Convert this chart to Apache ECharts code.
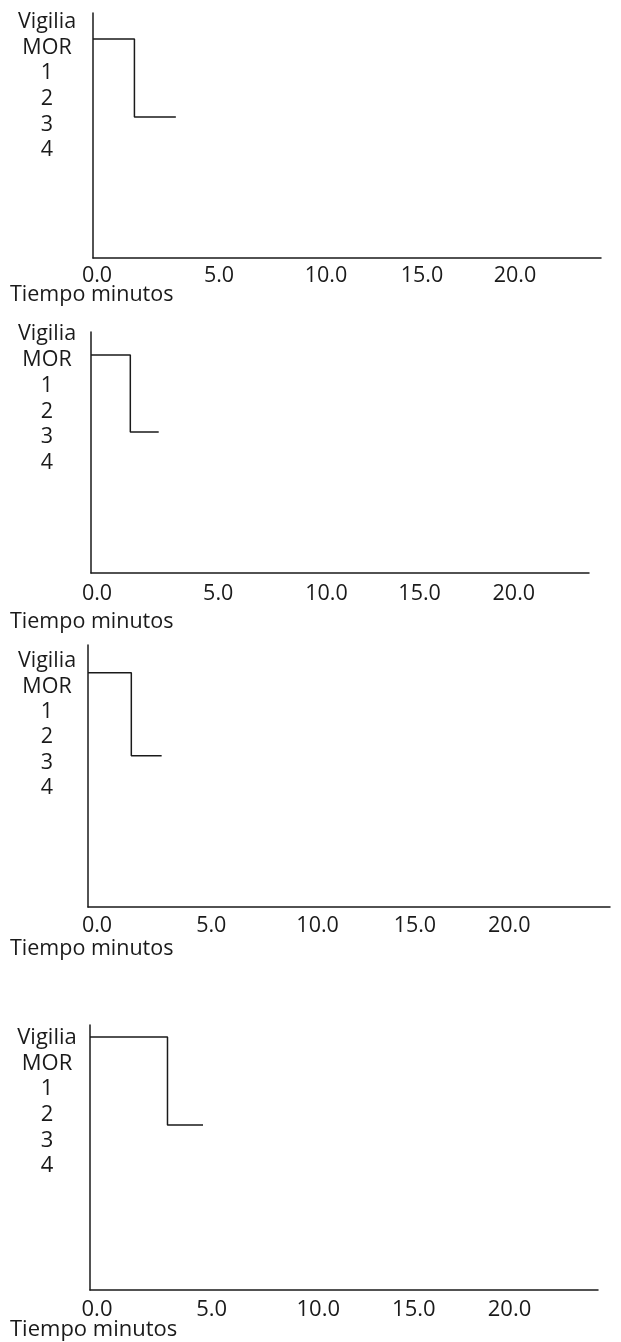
<!DOCTYPE html>
<html><head><meta charset="utf-8">
<script src="https://cdn.jsdelivr.net/npm/echarts@6/dist/echarts.min.js"></script>
<style>html,body{margin:0;padding:0;background:#fff}#c{width:621px;height:1342px}</style>
</head><body><div id="c"></div>
<script>
// ---- data ----
const stageLabels = ['Vigilia', 'MOR', '1', '2', '3', '4'];
const xTickValues = [0, 5, 10, 15, 20];
const xTickLabels = ['0.0', '5.0', '10.0', '15.0', '20.0'];
const xAxisTitle = 'Tiempo minutos';

const times1 = [0, 1.9, 3.8];
const stages1 = ['MOR', '3', '3'];
const times2 = [0, 1.8, 3.1];
const stages2 = ['MOR', '3', '3'];
const times3 = [0, 2.0, 3.4];
const stages3 = ['MOR', '3', '3'];
const times4 = [0, 3.6, 5.25];
const stages4 = ['MOR', '3', '3'];

const panels = [[times1, stages1], [times2, stages2], [times3, stages3], [times4, stages4]];

// ---- layout / style ----
const layouts = [
  {left: 93, top: 13,   width: 508, height: 245, xMax: 23.3, yMin: 0,     yMax: 9.42, labelTop: 9,  labelStep: 25.6, labelMargin: 46, nudge: [4, 17, 15, 2, -14], tickMargin: 7,  titleTop: 284,  font: 21.5},
  {left: 91, top: 332,  width: 498, height: 241, xMax: 22.8, yMin: 0.104, yMax: 9.49, labelTop: 2,  labelStep: 25.8, labelMargin: 44, nudge: [6, 18, 17, 1, -14], tickMargin: 10, titleTop: 611,  font: 21.5},
  {left: 88, top: 645,  width: 522, height: 262, xMax: 24.1, yMin: 0,     yMax: 9.47, labelTop: 16, labelStep: 25.4, labelMargin: 41, nudge: [9, 15, 13, 2, -12], tickMargin: 8,  titleTop: 938,  font: 21.5},
  {left: 90, top: 1025, width: 508, height: 265, xMax: 23.6, yMin: 0.59,  yMax: 9.62, labelTop: 13, labelStep: 25.6, labelMargin: 43, nudge: [7, 14, 13, 1, -11], tickMargin: 9,  titleTop: 1319, font: 22}
];
const FONT = '"Open Sans", "DejaVu Sans", sans-serif';
const INK = '#1a1a1a';

const grid = [], xAxis = [], yAxis = [], series = [], title = [];
layouts.forEach((L, i) => {
  grid.push({left: L.left, top: L.top, width: L.width, height: L.height, containLabel: false});
  const rich = {};
  L.nudge.forEach((d, k) => {
    rich['n' + k] = {
      fontSize: L.font, fontFamily: FONT, color: INK,
      padding: d >= 0 ? [0, 0, 0, 2 * d] : [0, -2 * d, 0, 0]
    };
  });
  xAxis.push({
    type: 'value', gridIndex: i, min: 0, max: L.xMax, position: 'bottom',
    axisLine: {show: true, onZero: false, lineStyle: {color: INK, width: 1.5}},
    axisTick: {show: false}, splitLine: {show: false},
    axisLabel: {
      customValues: xTickValues, margin: L.tickMargin,
      fontSize: L.font, fontFamily: FONT, color: INK,
      formatter: (v) => {
        const k = xTickValues.indexOf(Math.round(v * 1000) / 1000);
        return k < 0 ? '' : '{n' + k + '|' + xTickLabels[k] + '}';
      },
      rich: rich
    }
  });
  // data axis
  yAxis.push({
    type: 'value', gridIndex: i, inverse: true, min: L.yMin, max: L.yMax, position: 'left',
    axisLine: {show: true, onZero: false, lineStyle: {color: INK, width: 1.5}},
    axisTick: {show: false}, splitLine: {show: false}, axisLabel: {show: false}
  });
  // label axis (stage names)
  const lMin = -L.labelTop / L.labelStep;
  yAxis.push({
    type: 'value', gridIndex: i, inverse: true, position: 'left',
    min: lMin, max: lMin + L.height / L.labelStep,
    axisLine: {show: false, onZero: false}, axisTick: {show: false}, splitLine: {show: false},
    axisLabel: {
      customValues: stageLabels.map((s, k) => k),
      align: 'center', verticalAlign: 'middle', margin: L.labelMargin,
      fontSize: L.font, fontFamily: FONT, color: INK,
      formatter: (v) => stageLabels[Math.round(v)] ?? ''
    }
  });
  const [times, stages] = panels[i];
  series.push({
    type: 'line', xAxisIndex: i, yAxisIndex: 2 * i, step: 'end',
    symbol: 'none', silent: true,
    lineStyle: {color: INK, width: 1.5},
    data: times.map((t, k) => [t, stageLabels.indexOf(stages[k])])
  });
  title.push({
    text: xAxisTitle, left: 10, top: L.titleTop, padding: 0,
    textStyle: {fontSize: L.font, fontWeight: 'normal', fontFamily: FONT, color: INK}
  });
});

const chart = echarts.init(document.getElementById('c'), null, {renderer: 'canvas'});
chart.setOption({animation: false, backgroundColor: '#fff', title, grid, xAxis, yAxis, series});
</script>
</body></html>
